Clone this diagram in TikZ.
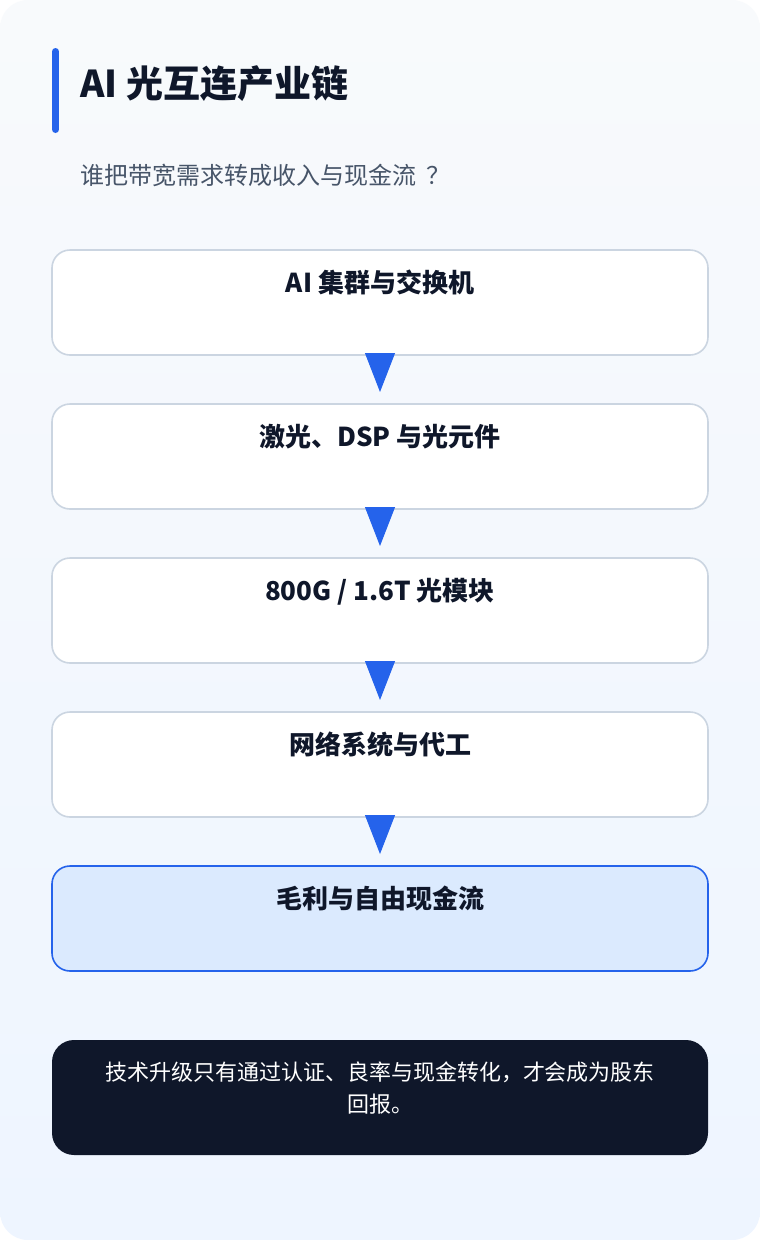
\documentclass[tikz,border=0pt]{standalone}
\usepackage{fontspec}
\setmainfont{Noto Sans CJK SC}
\usetikzlibrary{positioning,arrows.meta}
\definecolor{accentblue}{RGB}{37,99,235}
\definecolor{inkdark}{RGB}{15,23,42}
\definecolor{subgray}{RGB}{71,85,105}
\definecolor{boxborder}{RGB}{203,213,225}
\definecolor{hlfill}{RGB}{219,234,254}
\definecolor{bgtop}{RGB}{248,250,252}
\definecolor{bgbottom}{RGB}{238,245,255}

\begin{document}
\begin{tikzpicture}[
    x=1pt, y=-1pt,
    node distance=49pt,
    stage/.style={rectangle, draw=boxborder, line width=1.6pt, fill=white, rounded corners=18pt, minimum width=656pt, inner xsep=0pt, inner ysep=0pt, outer sep=0pt, text height=42pt, text depth=63pt, text=inkdark, font=\fontsize{26}{30}\selectfont\bfseries},
    highlight/.style={stage, fill=hlfill, draw=accentblue},
    note/.style={rectangle, fill=inkdark, rounded corners=22pt, minimum width=656pt, minimum height=115pt, outer sep=0pt},
    notetext/.style={align=center, inner sep=0pt, text=white, font=\fontsize{22}{32}\selectfont},
    flow/.style={-{Triangle[width=30pt,length=39pt]}, draw=accentblue, fill=accentblue, line width=1pt, shorten >=12pt, shorten <=-2pt}
]

% Background card
\fill[white] (0,0) rectangle (760,1240);
\useasboundingbox (0,0) rectangle (760,1240);
\shade[top color=bgtop, bottom color=bgbottom, rounded corners=28pt] (0,0) rectangle (760,1240);

% Title with accent bar
\draw[accentblue, line width=7pt, line cap=round] (55.5,51.5) -- (55.5,129.5);
\node[anchor=west, inner sep=0pt, text=inkdark, font=\fontsize{37}{42}\selectfont\bfseries] (title) at (80,83.5) {AI 光互连产业链};
\node[anchor=west, inner sep=0pt, text=subgray, font=\fontsize{24}{28}\selectfont] (subtitle) at (80,175) {谁把带宽需求转成收入与现金流\kern10pt？};

% Chain stages (top to bottom)
\node[stage] (cluster) at (380,302.5) {AI 集群与交换机};
\node[stage, below=of cluster] (optics) {激光、DSP 与光元件};
\node[stage, below=of optics] (module) {800G / 1.6T 光模块};
\node[stage, below=of module] (system) {网络系统与代工};
\node[highlight, below=of system] (cash) {毛利与自由现金流};

% Arrows
\draw[flow] (cluster) -- (optics);
\draw[flow] (optics) -- (module);
\draw[flow] (module) -- (system);
\draw[flow] (system) -- (cash);

% Takeaway
\node[note, below=69pt of cash] (takeaway) {};
\node[notetext] (takeawaytext) at ([yshift=9.5pt]takeaway.center) {技术升级只有通过认证、良率与现金转化，才会成为股东\\回报。};

\end{tikzpicture}
\end{document}
